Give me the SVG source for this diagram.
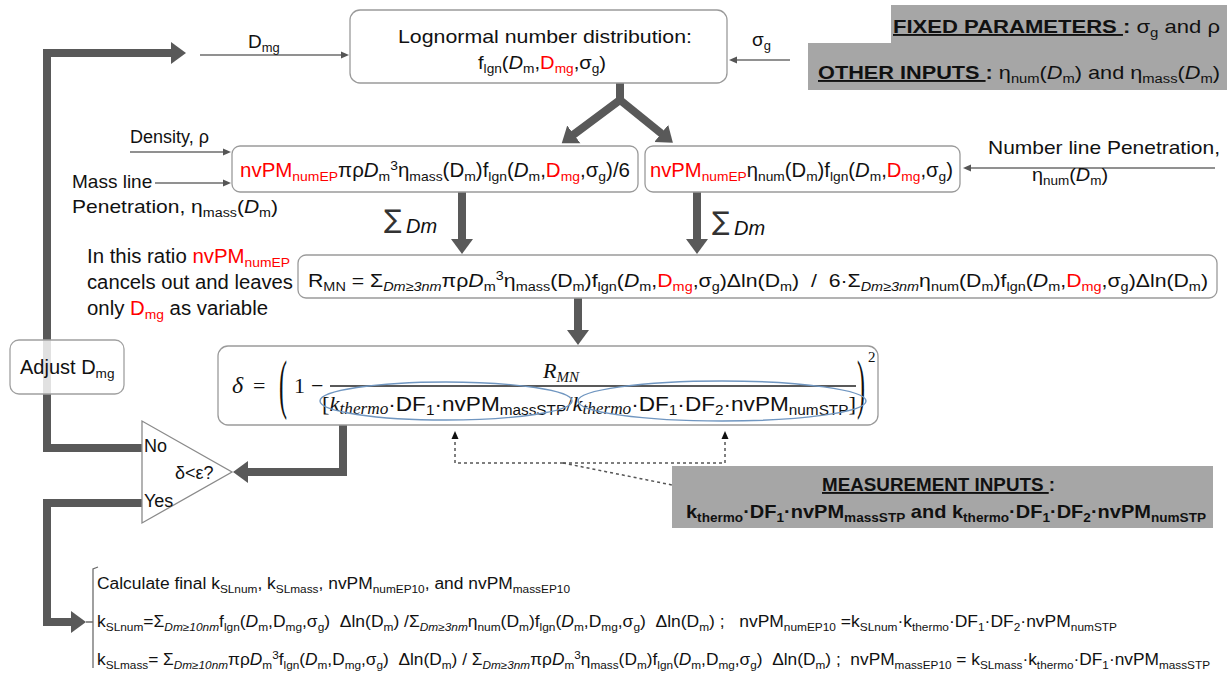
<svg xmlns="http://www.w3.org/2000/svg" width="1232" height="673" viewBox="0 0 1232 673">
<style>
.t{font-family:"Liberation Sans",Arial,sans-serif;fill:#111}
.r{fill:#ff0000}
.s{font-size:68%}
.i{font-style:italic}
.b{font-weight:bold}
.u{text-decoration:underline}
.m{font-family:"Liberation Serif","DejaVu Serif",serif;font-style:italic;fill:#111}
.box{fill:#fff;stroke:#9a9a9a;stroke-width:1.3}
.gbox{fill:#a6a6a6;stroke:none}
.thick{fill:none;stroke:#595959;stroke-width:8}
.thin{fill:none;stroke:#6d6d6d;stroke-width:1.3}
.dot{fill:none;stroke:#555;stroke-width:1.5;stroke-dasharray:3,3}
.ell{fill:none;stroke:#7096c0;stroke-width:1.4}
</style>
<defs>
<marker id="ah" markerUnits="userSpaceOnUse" markerWidth="17" markerHeight="24" viewBox="0 -12 17 24" refX="1" refY="0" orient="auto"><path d="M0,-11 L15,0 L0,11z" fill="#595959"/></marker>
<marker id="as" markerUnits="userSpaceOnUse" markerWidth="10" markerHeight="10" viewBox="0 -5 10 10" refX="1" refY="0" orient="auto"><path d="M0,-3.5 L8,0 L0,3.5z" fill="#555"/></marker>
<marker id="ad" markerUnits="userSpaceOnUse" markerWidth="10" markerHeight="10" viewBox="0 -5 10 10" refX="1" refY="0" orient="auto"><path d="M0,-3.5 L8,0 L0,3.5z" fill="#111"/></marker>
</defs>

<g id="connectors">
<path class="thick" d="M145,448 L47,448 L47,53 L172,53" marker-end="url(#ah)"/>
<path class="thick" d="M142,503 L47,503 L47,622 L72,622" marker-end="url(#ah)"/>
<path class="thick" d="M620,83 L620,100 L573,135" marker-end="url(#ah)" stroke-linejoin="miter"/>
<path class="thick" d="M620,100 L662,134" marker-end="url(#ah)"/>
<path class="thick" d="M462,192 L462,240" marker-end="url(#ah)"/>
<path class="thick" d="M697,192 L697,240" marker-end="url(#ah)"/>
<path class="thick" d="M578,298 L578,331" marker-end="url(#ah)"/>
<path class="thick" d="M343,425 L343,472 L247,472" marker-end="url(#ah)"/>
<path class="thin" d="M200,55 L342,55" marker-end="url(#as)"/>
<path class="thin" d="M790,60 L736,60" marker-end="url(#as)"/>
<path class="thin" d="M130,152 L224,152" marker-end="url(#as)"/>
<path class="thin" d="M155,183 L224,183" marker-end="url(#as)"/>
<path class="thin" d="M1215,168 L970,168" marker-end="url(#as)"/>
<path class="dot" d="M563,463 L455,463 L455,438" marker-end="url(#ad)"/>
<path class="dot" d="M563,463 L725,463 L725,438" marker-end="url(#ad)"/>
<path class="dot" d="M563,463 L687,488"/>
<path class="thin" d="M86,622 L93,622 M98,567 L93,569 L93,668" stroke="#888" stroke-width="1"/>
</g>

<g id="lognormal">
<rect class="box" x="350" y="10" width="377" height="73" rx="10"/>
<text class="t" x="398" y="43" font-size="19" textLength="294" lengthAdjust="spacingAndGlyphs">Lognormal number distribution:</text>
<text class="t" x="478" y="69" font-size="19" textLength="128" lengthAdjust="spacingAndGlyphs">f<tspan class="s" dy="4">lgn</tspan><tspan dy="-4">(</tspan><tspan class="i">D</tspan><tspan class="s" dy="4">m</tspan><tspan dy="-4">,</tspan><tspan class="r">D</tspan><tspan class="r s" dy="4">mg</tspan><tspan dy="-4">,σ</tspan><tspan class="s" dy="4">g</tspan><tspan dy="-4">)</tspan></text>
</g>

<g id="label-dmg"><text class="t" x="248" y="48" font-size="19">D<tspan class="s" dy="4">mg</tspan></text></g>
<g id="label-sigma"><text class="t" x="752" y="46" font-size="19">σ<tspan class="s" dy="4">g</tspan></text></g>

<g id="fixed">
<path class="gbox" d="M891,5 L1227,5 L1227,90 L808,90 L808,43 L891,43z"/>
<text class="t" x="893" y="33" font-size="19" textLength="327" lengthAdjust="spacingAndGlyphs"><tspan class="b u">FIXED PARAMETERS </tspan><tspan class="b">:</tspan> σ<tspan class="s" dy="4">g</tspan><tspan dy="-4"> and ρ</tspan></text>
<text class="t" x="818" y="79" font-size="19" textLength="402" lengthAdjust="spacingAndGlyphs"><tspan class="b u">OTHER INPUTS </tspan><tspan class="b">:</tspan> η<tspan class="s" dy="4">num</tspan><tspan dy="-4">(</tspan><tspan class="i">D</tspan><tspan class="s" dy="4">m</tspan><tspan dy="-4">) and η</tspan><tspan class="s" dy="4">mass</tspan><tspan dy="-4">(</tspan><tspan class="i">D</tspan><tspan class="s" dy="4">m</tspan><tspan dy="-4">)</tspan></text>
</g>

<g id="mass-box">
<rect class="box" x="232" y="146" width="406" height="46" rx="8"/>
<text class="t" x="240" y="177" font-size="20" textLength="390" lengthAdjust="spacingAndGlyphs"><tspan class="r">nvPM</tspan><tspan class="r s" dy="4">numEP</tspan><tspan dy="-4">πρ</tspan><tspan class="i">D</tspan><tspan class="s" dy="4">m</tspan><tspan class="s" dy="-11">3</tspan><tspan dy="7">η</tspan><tspan class="s" dy="4">mass</tspan><tspan dy="-4">(D</tspan><tspan class="s" dy="4">m</tspan><tspan dy="-4">)f</tspan><tspan class="s" dy="4">lgn</tspan><tspan dy="-4">(</tspan><tspan class="i">D</tspan><tspan class="s" dy="4">m</tspan><tspan dy="-4">,</tspan><tspan class="r">D</tspan><tspan class="r s" dy="4">mg</tspan><tspan dy="-4">,σ</tspan><tspan class="s" dy="4">g</tspan><tspan dy="-4">)/6</tspan></text>
</g>

<g id="num-box">
<rect class="box" x="645" y="146" width="315" height="46" rx="8"/>
<text class="t" x="650" y="177" font-size="20" textLength="303" lengthAdjust="spacingAndGlyphs"><tspan class="r">nvPM</tspan><tspan class="r s" dy="4">numEP</tspan><tspan dy="-4">η</tspan><tspan class="s" dy="4">num</tspan><tspan dy="-4">(D</tspan><tspan class="s" dy="4">m</tspan><tspan dy="-4">)f</tspan><tspan class="s" dy="4">lgn</tspan><tspan dy="-4">(</tspan><tspan class="i">D</tspan><tspan class="s" dy="4">m</tspan><tspan dy="-4">,</tspan><tspan class="r">D</tspan><tspan class="r s" dy="4">mg</tspan><tspan dy="-4">,σ</tspan><tspan class="s" dy="4">g</tspan><tspan dy="-4">)</tspan></text>
</g>

<g id="inputs-left">
<text class="t" x="130" y="143" font-size="18">Density, ρ</text>
<text class="t" x="72" y="188" font-size="19">Mass line</text>
<text class="t" x="72" y="213" font-size="19" textLength="206" lengthAdjust="spacingAndGlyphs">Penetration, η<tspan class="s" dy="4">mass</tspan><tspan dy="-4">(</tspan><tspan class="i">D</tspan><tspan class="s" dy="4">m</tspan><tspan dy="-4">)</tspan></text>
</g>

<g id="inputs-right">
<text class="t" x="988" y="154" font-size="19" textLength="232" lengthAdjust="spacingAndGlyphs">Number line Penetration,</text>
<text class="t" x="1032" y="181" font-size="19" textLength="76" lengthAdjust="spacingAndGlyphs">η<tspan class="s" dy="4">num</tspan><tspan dy="-4">(</tspan><tspan class="i">D</tspan><tspan class="s" dy="4">m</tspan><tspan dy="-4">)</tspan></text>
</g>

<g id="sum-labels">
<text x="384" y="228" font-size="26" font-family="DejaVu Sans" fill="#333">∑</text>
<text class="t i" x="406" y="233" font-size="20">Dm</text>
<text x="712" y="230" font-size="26" font-family="DejaVu Sans" fill="#333">∑</text>
<text class="t i" x="734" y="235" font-size="20">Dm</text>
</g>

<g id="note">
<text class="t" x="87" y="263" font-size="20" textLength="203" lengthAdjust="spacingAndGlyphs">In this ratio <tspan class="r">nvPM</tspan><tspan class="r s" dy="4">numEP</tspan></text>
<text class="t" x="87" y="289" font-size="20" textLength="206" lengthAdjust="spacingAndGlyphs">cancels out and leaves</text>
<text class="t" x="87" y="315" font-size="20" textLength="181" lengthAdjust="spacingAndGlyphs">only <tspan class="r">D</tspan><tspan class="r s" dy="4">mg</tspan><tspan dy="-4"> as variable</tspan></text>
</g>

<g id="ratio-box">
<rect class="box" x="298" y="255" width="919" height="43" rx="8"/>
<text class="t" x="308" y="287" font-size="19" textLength="900" lengthAdjust="spacingAndGlyphs">R<tspan class="s" dy="4">MN</tspan><tspan dy="-4"> = Σ</tspan><tspan class="s i" dy="4">Dm≥3nm</tspan><tspan dy="-4">πρ</tspan><tspan class="i">D</tspan><tspan class="s" dy="4">m</tspan><tspan class="s" dy="-11">3</tspan><tspan dy="7">η</tspan><tspan class="s" dy="4">mass</tspan><tspan dy="-4">(D</tspan><tspan class="s" dy="4">m</tspan><tspan dy="-4">)f</tspan><tspan class="s" dy="4">lgn</tspan><tspan dy="-4">(</tspan><tspan class="i">D</tspan><tspan class="s" dy="4">m</tspan><tspan dy="-4">,</tspan><tspan class="r">D</tspan><tspan class="r s" dy="4">mg</tspan><tspan dy="-4">,σ</tspan><tspan class="s" dy="4">g</tspan><tspan dy="-4">)Δln(D</tspan><tspan class="s" dy="4">m</tspan><tspan dy="-4">)&#160; /&#160; 6·Σ</tspan><tspan class="s i" dy="4">Dm≥3nm</tspan><tspan dy="-4">η</tspan><tspan class="s" dy="4">num</tspan><tspan dy="-4">(D</tspan><tspan class="s" dy="4">m</tspan><tspan dy="-4">)f</tspan><tspan class="s" dy="4">lgn</tspan><tspan dy="-4">(</tspan><tspan class="i">D</tspan><tspan class="s" dy="4">m</tspan><tspan dy="-4">,</tspan><tspan class="r">D</tspan><tspan class="r s" dy="4">mg</tspan><tspan dy="-4">,σ</tspan><tspan class="s" dy="4">g</tspan><tspan dy="-4">)Δln(D</tspan><tspan class="s" dy="4">m</tspan><tspan dy="-4">)</tspan></text>
</g>

<g id="delta-box">
<rect class="box" x="218" y="346" width="660" height="79" rx="10"/>
<text class="m" x="232" y="393" font-size="24">δ</text>
<text x="253" y="393" font-size="22" font-family="Liberation Serif,serif" fill="#111">=</text>
<text font-size="24" font-family="Liberation Serif,serif" fill="#111" transform="translate(279,406) scale(1,2.7)">(</text>
<text x="294" y="393" font-size="22" font-family="Liberation Serif,serif" fill="#111">1</text>
<text x="311" y="393" font-size="22" font-family="Liberation Serif,serif" fill="#111">−</text>
<line x1="330" y1="386" x2="856" y2="386" stroke="#222" stroke-width="1.3"/>
<text class="m" x="543" y="378" font-size="22">R<tspan font-size="15" dy="4">MN</tspan></text>
<text x="322" y="411" font-size="21" fill="#111" font-family="Liberation Serif,serif" textLength="534" lengthAdjust="spacingAndGlyphs">[<tspan class="m">k</tspan><tspan class="m" font-size="16" dy="3">thermo</tspan><tspan class="t" dy="-3">·DF</tspan><tspan class="t s" dy="4">1</tspan><tspan class="t" dy="-4">·nvPM</tspan><tspan class="t s" dy="4">massSTP</tspan><tspan dy="-4">/</tspan><tspan class="m">k</tspan><tspan class="m" font-size="16" dy="3">thermo</tspan><tspan class="t" dy="-3">·DF</tspan><tspan class="t s" dy="4">1</tspan><tspan class="t" dy="-4">·DF</tspan><tspan class="t s" dy="4">2</tspan><tspan class="t" dy="-4">·nvPM</tspan><tspan class="t s" dy="4">numSTP</tspan><tspan dy="-4">]</tspan></text>
<text font-size="24" font-family="Liberation Serif,serif" fill="#111" transform="translate(857,406) scale(1,2.7)">)</text>
<text x="868" y="362" font-size="15" font-family="Liberation Serif,serif" fill="#111">2</text>
<ellipse class="ell" cx="446" cy="401" rx="126" ry="19"/>
<ellipse class="ell" cx="722" cy="401" rx="144" ry="20"/>
</g>

<g id="adjust">
<rect x="10" y="340" width="114" height="54" rx="9" fill="#fff" fill-opacity="0.82" stroke="#a0a0a0" stroke-width="1.3"/>
<text class="t" x="20" y="374" font-size="20">Adjust D<tspan class="s" dy="4">mg</tspan></text>
</g>

<g id="decision">
<polygon points="142,421 142,523 232,472" fill="#fff" stroke="#8a8a8a" stroke-width="1.3"/>
<text class="t" x="144" y="452" font-size="18">No</text>
<text class="t" x="175" y="479" font-size="18">δ&lt;ε?</text>
<text class="t" x="144" y="507" font-size="18">Yes</text>
</g>

<g id="measurement">
<rect class="gbox" x="672" y="466" width="541" height="62"/>
<text class="t b" x="822" y="491" font-size="19" textLength="233" lengthAdjust="spacingAndGlyphs"><tspan class="u">MEASUREMENT INPUTS </tspan>:</text>
<text class="t b" x="686" y="518" font-size="19" textLength="520" lengthAdjust="spacingAndGlyphs">k<tspan class="s" dy="4">thermo</tspan><tspan dy="-4">·DF</tspan><tspan class="s" dy="4">1</tspan><tspan dy="-4">·nvPM</tspan><tspan class="s" dy="4">massSTP</tspan><tspan dy="-4"> and k</tspan><tspan class="s" dy="4">thermo</tspan><tspan dy="-4">·DF</tspan><tspan class="s" dy="4">1</tspan><tspan dy="-4">·DF</tspan><tspan class="s" dy="4">2</tspan><tspan dy="-4">·nvPM</tspan><tspan class="s" dy="4">numSTP</tspan></text>
</g>

<g id="final">
<text class="t" x="97" y="589" font-size="16" textLength="473" lengthAdjust="spacingAndGlyphs">Calculate final k<tspan class="s" dy="4">SLnum</tspan><tspan dy="-4">, k</tspan><tspan class="s" dy="4">SLmass</tspan><tspan dy="-4">, nvPM</tspan><tspan class="s" dy="4">numEP10</tspan><tspan dy="-4">, and nvPM</tspan><tspan class="s" dy="4">massEP10</tspan></text>
<text class="t" x="97" y="627" font-size="16" textLength="1020" lengthAdjust="spacingAndGlyphs">k<tspan class="s" dy="4">SLnum</tspan><tspan dy="-4">=Σ</tspan><tspan class="s i" dy="4">Dm≥10nm</tspan><tspan dy="-4">f</tspan><tspan class="s" dy="4">lgn</tspan><tspan dy="-4">(</tspan><tspan class="i">D</tspan><tspan class="s" dy="4">m</tspan><tspan dy="-4">,D</tspan><tspan class="s" dy="4">mg</tspan><tspan dy="-4">,σ</tspan><tspan class="s" dy="4">g</tspan><tspan dy="-4">)&#160; Δln(D</tspan><tspan class="s" dy="4">m</tspan><tspan dy="-4">) /Σ</tspan><tspan class="s i" dy="4">Dm≥3nm</tspan><tspan dy="-4">η</tspan><tspan class="s" dy="4">num</tspan><tspan dy="-4">(D</tspan><tspan class="s" dy="4">m</tspan><tspan dy="-4">)f</tspan><tspan class="s" dy="4">lgn</tspan><tspan dy="-4">(</tspan><tspan class="i">D</tspan><tspan class="s" dy="4">m</tspan><tspan dy="-4">,D</tspan><tspan class="s" dy="4">mg</tspan><tspan dy="-4">,σ</tspan><tspan class="s" dy="4">g</tspan><tspan dy="-4">)&#160; Δln(D</tspan><tspan class="s" dy="4">m</tspan><tspan dy="-4">) ;&#160;&#160; nvPM</tspan><tspan class="s" dy="4">numEP10</tspan><tspan dy="-4"> =k</tspan><tspan class="s" dy="4">SLnum</tspan><tspan dy="-4">·k</tspan><tspan class="s" dy="4">thermo</tspan><tspan dy="-4">·DF</tspan><tspan class="s" dy="4">1</tspan><tspan dy="-4">·DF</tspan><tspan class="s" dy="4">2</tspan><tspan dy="-4">·nvPM</tspan><tspan class="s" dy="4">numSTP</tspan></text>
<text class="t" x="97" y="665" font-size="16" textLength="1113" lengthAdjust="spacingAndGlyphs">k<tspan class="s" dy="4">SLmass</tspan><tspan dy="-4">= Σ</tspan><tspan class="s i" dy="4">Dm≥10nm</tspan><tspan dy="-4">πρ</tspan><tspan class="i">D</tspan><tspan class="s" dy="4">m</tspan><tspan class="s" dy="-10">3</tspan><tspan dy="6">f</tspan><tspan class="s" dy="4">lgn</tspan><tspan dy="-4">(</tspan><tspan class="i">D</tspan><tspan class="s" dy="4">m</tspan><tspan dy="-4">,D</tspan><tspan class="s" dy="4">mg</tspan><tspan dy="-4">,σ</tspan><tspan class="s" dy="4">g</tspan><tspan dy="-4">)&#160; Δln(D</tspan><tspan class="s" dy="4">m</tspan><tspan dy="-4">) / Σ</tspan><tspan class="s i" dy="4">Dm≥3nm</tspan><tspan dy="-4">πρ</tspan><tspan class="i">D</tspan><tspan class="s" dy="4">m</tspan><tspan class="s" dy="-10">3</tspan><tspan dy="6">η</tspan><tspan class="s" dy="4">mass</tspan><tspan dy="-4">(D</tspan><tspan class="s" dy="4">m</tspan><tspan dy="-4">)f</tspan><tspan class="s" dy="4">lgn</tspan><tspan dy="-4">(</tspan><tspan class="i">D</tspan><tspan class="s" dy="4">m</tspan><tspan dy="-4">,D</tspan><tspan class="s" dy="4">mg</tspan><tspan dy="-4">,σ</tspan><tspan class="s" dy="4">g</tspan><tspan dy="-4">)&#160; Δln(D</tspan><tspan class="s" dy="4">m</tspan><tspan dy="-4">) ;&#160; nvPM</tspan><tspan class="s" dy="4">massEP10</tspan><tspan dy="-4"> = k</tspan><tspan class="s" dy="4">SLmass</tspan><tspan dy="-4">·k</tspan><tspan class="s" dy="4">thermo</tspan><tspan dy="-4">·DF</tspan><tspan class="s" dy="4">1</tspan><tspan dy="-4">·nvPM</tspan><tspan class="s" dy="4">massSTP</tspan></text>
</g>
</svg>
